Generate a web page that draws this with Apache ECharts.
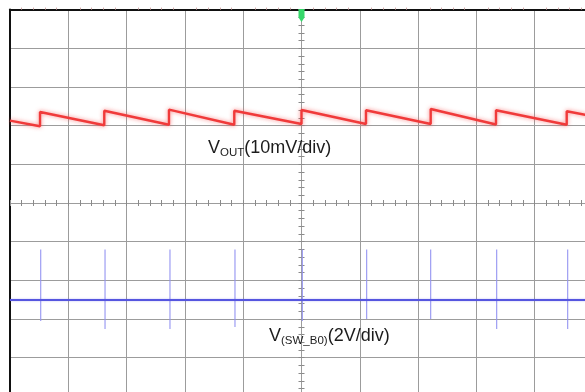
<!DOCTYPE html>
<html>
<head>
<meta charset="utf-8">
<script src="https://cdn.jsdelivr.net/npm/echarts@6/dist/echarts.min.js"></script>
<style>
  html, body { margin: 0; padding: 0; background: #ffffff; }
  #chart { width: 585px; height: 392px; }
</style>
</head>
<body>
<div id="chart"></div>
<script>
// Horizontal position in divisions relative to trigger (-5..5), vertical in divisions (-5..5)
// VOUT ripple (10 mV/div): sawtooth vertices
const vOutTime = [-5, -4.485, -4.485, -3.383, -3.383, -2.273, -2.273, -1.153, -1.153, 0.0, 0.0, 1.106, 1.106, 2.216, 2.216, 3.336, 3.336, 4.549, 4.549, 5];
const vOutDiv  = [2.128, 1.983, 2.353, 2.009, 2.386, 2.024, 2.412, 2.024, 2.386, 2.042, 2.404, 2.042, 2.397, 2.042, 2.430, 2.029, 2.397, 2.024, 2.371, 2.241];

// V(SW_B0) (2 V/div): flat baseline with narrow switching spikes
const swBaseTime = [-5, 5];
const swBaseDiv  = [-2.508, -2.508];
const swSpikeTime   = [-4.473, -3.370, -2.256, -1.141, 0.014, 1.118, 2.216, 3.348, 4.566];
const swSpikeTop    = [-1.202, -1.202, -1.202, -1.202, -1.202, -1.202, -1.202, -1.202, -1.202];
const swSpikeBottom = [-3.050, -3.257, -3.257, -3.205, -3.050, -2.998, -2.998, -3.257, -3.257];

// Trigger position (horizontal division)
const triggerTime = [0];

const vOutLabel = { main: 'V', sub: 'OUT', tail: '(10mV/div)' };
const swLabel   = { main: 'V', sub: '(SW_B0)', tail: '(2V/div)' };

const FONT = 'Liberation Sans, Arial, Helvetica, sans-serif';
const GRID_C = '#9c9c9c';
const TICK_C = '#8a8a8a';

const vOutData = vOutTime.map((t, i) => [t, vOutDiv[i]]);
const baseData = swBaseTime.map((t, i) => [t, swBaseDiv[i]]);
const spikeData = [];
swSpikeTime.forEach((t, i) => {
  spikeData.push([t, swSpikeTop[i]]);
  spikeData.push([t, swSpikeBottom[i]]);
  spikeData.push([t, '-']);
});

function centerAxis(inside, pos) {
  return {
    type: 'value', min: -5, max: 5, interval: 1, gridIndex: 0, position: pos,
    axisLine: { show: false, onZero: true },
    axisTick: { show: true, inside: inside, length: 3, lineStyle: { color: TICK_C, width: 1 } },
    minorTick: { show: true, splitNumber: 5, length: 3, lineStyle: { color: TICK_C, width: 1 } },
    axisLabel: { show: false }, splitLine: { show: false }
  };
}

function richLabel(l) {
  return {
    text: '{m|' + l.main + '}{s|' + l.sub + '}{m|' + l.tail + '}',
    rich: {
      m: { fontSize: 18, fontFamily: FONT, fill: '#1c1c1c', verticalAlign: 'bottom', padding: [0, 0, 2, 0] },
      s: { fontSize: 11.5, fontFamily: FONT, fill: '#1c1c1c', verticalAlign: 'bottom' }
    }
  };
}

const chart = echarts.init(document.getElementById('chart'), null, { renderer: 'canvas' });
chart.setOption({
  backgroundColor: '#ffffff',
  animation: false,
  grid: { left: 10, top: 9.6, width: 583, height: 386.8, containLabel: false, outerBoundsMode: 'none' },
  xAxis: [
    {
      type: 'value', min: -5, max: 5, interval: 1, position: 'top',
      axisLine: { show: true, onZero: false, lineStyle: { color: '#111', width: 2 } },
      axisTick: { show: false },
      minorTick: { show: true, splitNumber: 5, length: 2, lineStyle: { color: '#d0a8a8' } },
      axisLabel: { show: false },
      splitLine: { show: true, lineStyle: { color: GRID_C, width: 1 } }
    },
    centerAxis(true, 'bottom'),
    centerAxis(false, 'bottom')
  ],
  yAxis: [
    {
      type: 'value', min: -5, max: 5, interval: 1, position: 'left',
      axisLine: { show: true, onZero: false, lineStyle: { color: '#111', width: 2 } },
      axisTick: { show: false },
      axisLabel: { show: false },
      splitLine: { show: true, lineStyle: { color: GRID_C, width: 1 } }
    },
    centerAxis(true, 'left'),
    centerAxis(false, 'left')
  ],
  series: [
    {
      type: 'line', name: 'VOUT', data: vOutData, showSymbol: false, symbol: 'none',
      lineStyle: { color: '#f03a3a', width: 2.4, shadowColor: 'rgba(245,80,80,0.7)', shadowBlur: 4 },
      z: 5,
      markPoint: {
        symbol: 'path://M0,0 L10,0 L10,11 L5,17 L0,11 Z',
        symbolSize: [6, 13],
        symbolOffset: [0, 6],
        itemStyle: { color: '#36d86a' },
        label: { show: false },
        data: triggerTime.map(t => ({ coord: [t, 5] }))
      }
    },
    {
      type: 'line', name: 'VSW spikes', data: spikeData, showSymbol: false, symbol: 'none',
      connectNulls: false,
      lineStyle: { color: '#9494f2', width: 1.1 }, z: 4
    },
    {
      type: 'line', name: 'VSW', data: baseData, showSymbol: false, symbol: 'none',
      lineStyle: { color: '#5656df', width: 2.2, shadowColor: 'rgba(90,90,230,0.4)', shadowBlur: 2 }, z: 5
    }
  ],
  graphic: [
    { type: 'text', left: 208, top: 139, style: richLabel(vOutLabel), z: 10 },
    { type: 'text', left: 269, top: 327, style: richLabel(swLabel), z: 10 }
  ]
});
</script>
</body>
</html>
